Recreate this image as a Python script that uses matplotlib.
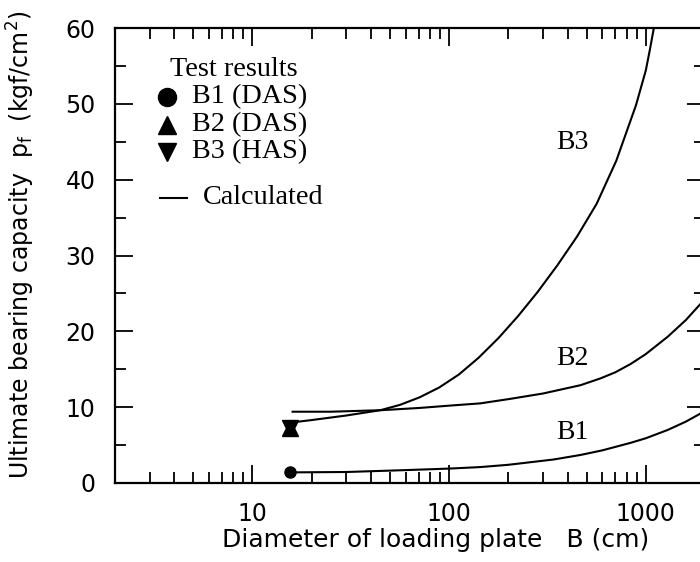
import matplotlib
matplotlib.use("Agg")
import matplotlib.pyplot as plt
from matplotlib.ticker import LogLocator, FixedLocator, NullFormatter, FixedFormatter, MultipleLocator
from matplotlib.lines import Line2D

# ---- data ----
b1_x = [15.5, 30, 60, 100, 144, 200, 340, 466, 600, 838, 1000, 1294, 1600, 1910, 2100]
b1_y = [1.4, 1.45, 1.7, 1.9, 2.1, 2.4, 3.1, 3.7, 4.3, 5.3, 5.9, 7.0, 8.1, 9.2, 9.9]

b2_x = [16, 25, 45, 71, 100, 144, 205, 300, 466, 589, 700, 838, 1000, 1294, 1600, 1910, 2100]
b2_y = [9.4, 9.4, 9.6, 9.9, 10.2, 10.5, 11.1, 11.8, 12.9, 13.8, 14.6, 15.7, 17.0, 19.3, 21.5, 23.7, 25.0]

b3_x = [16, 20, 30, 44.7, 56.2, 70.8, 89.1, 112, 141, 178, 224, 282, 355, 447, 562, 708, 891, 1000, 1050, 1099]
b3_y = [8.0, 8.3, 8.9, 9.6, 10.3, 11.3, 12.6, 14.3, 16.5, 19.1, 22.0, 25.2, 28.7, 32.5, 36.8, 42.5, 49.8, 54.4, 57.2, 60.0]

test_b1 = (15.5, 1.45)
test_b2 = (15.5, 7.3)
test_b3 = (15.5, 7.3)

x_ticks = [10, 100, 1000]
x_ticklabels = ["10", "100", "1000"]
y_ticks = [0, 10, 20, 30, 40, 50, 60]

curve_labels = ["B3", "B2", "B1"]
curve_label_pos = [(425, 44.9), (425, 16.4), (425, 6.6)]

W, H = 700, 562
fig = plt.figure(figsize=(W / 100, H / 100), dpi=100)
ax = fig.add_axes([115 / W, 1 - 483 / H, 590 / W, (483 - 28) / H])

lw = 1.5
ax.plot(b1_x, b1_y, color="black", lw=lw, solid_joinstyle="round")
ax.plot(b2_x, b2_y, color="black", lw=lw, solid_joinstyle="round")
ax.plot(b3_x, b3_y, color="black", lw=lw, solid_joinstyle="round")

ax.plot(*test_b1, marker="o", color="black", ms=8, ls="none")
ax.plot(*test_b2, marker="^", color="black", ms=12, ls="none")
ax.plot(*test_b3, marker="v", color="black", ms=12, ls="none")

ax.set_xscale("log")
ax.set_xlim(2, 2000)
ax.set_ylim(0, 60)

ax.xaxis.set_major_locator(FixedLocator(x_ticks))
ax.xaxis.set_major_formatter(FixedFormatter(x_ticklabels))
ax.xaxis.set_minor_locator(LogLocator(base=10, subs=range(2, 10)))
ax.xaxis.set_minor_formatter(NullFormatter())
ax.yaxis.set_major_locator(FixedLocator(y_ticks))
ax.yaxis.set_minor_locator(MultipleLocator(5))

tickfont = "DejaVu Sans"
ax.tick_params(which="both", direction="in", top=True, right=True, width=1.3, colors="black")
ax.tick_params(which="major", length=13, pad=14, labelsize=17)
ax.tick_params(which="minor", length=8)
for lab in ax.get_xticklabels() + ax.get_yticklabels():
    lab.set_family(tickfont)
for s in ax.spines.values():
    s.set_linewidth(1.6)

ax.set_xlabel("Diameter of loading plate   B (cm)", fontsize=18, family=tickfont)
ax.xaxis.set_label_coords((436 - 115) / 590, -(540 - 483) / 455)
ax.xaxis.label.set_va("center")
fig.text(21 / W, 1 - 245 / H,
         r"Ultimate bearing capacity  p$_\mathregular{f}$  (kgf/cm$^\mathregular{2}$)",
         rotation=90, ha="center", va="center", fontsize=17, family=tickfont)

serif = "Liberation Serif"
for txt, (bx, by) in zip(curve_labels, curve_label_pos):
    ax.text(bx, by, txt, ha="center", va="center", fontsize=20, family=serif)

# legend (manual)
fs = 20.3
fig.text(170 / W, 1 - 69 / H, "Test results", ha="left", va="center", fontsize=fs, family=serif)
rows = [("o", "B1 (DAS)", 97), ("^", "B2 (DAS)", 125), ("v", "B3 (HAS)", 152)]
for m, t, py in rows:
    fig.add_artist(Line2D([167 / W], [1 - py / H], marker=m, color="black", ms=13, ls="none",
                          transform=fig.transFigure))
    fig.text(192 / W, 1 - py / H, t, ha="left", va="center", fontsize=fs, family=serif)
fig.add_artist(Line2D([160 / W, 187 / W], [1 - 198 / H, 1 - 198 / H], color="black", lw=1.5,
                      transform=fig.transFigure))
fig.text(203 / W, 1 - 198 / H, "Calculated", ha="left", va="center", fontsize=fs, family=serif)

fig.savefig("out.png", dpi=100)
